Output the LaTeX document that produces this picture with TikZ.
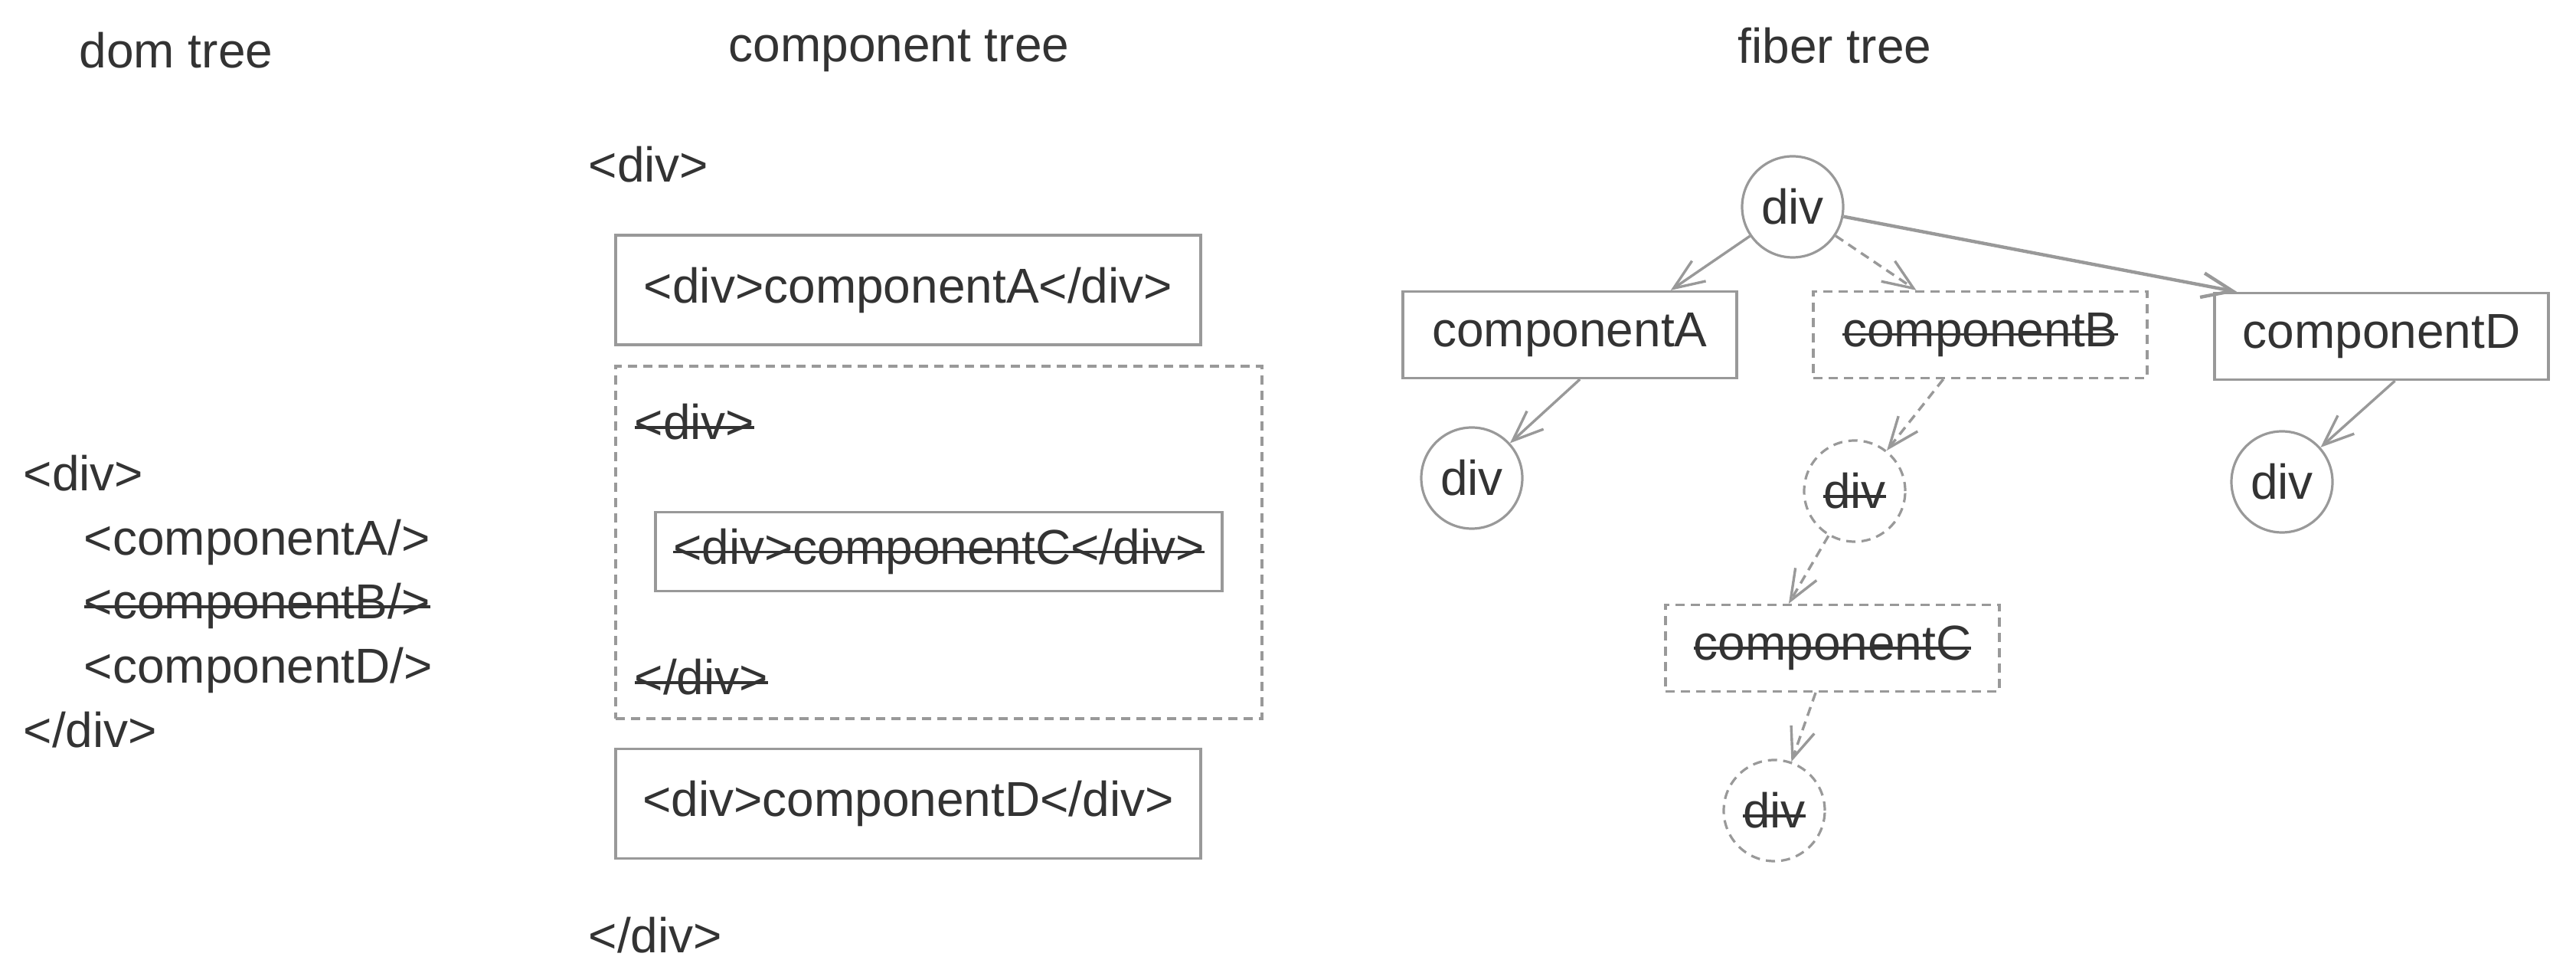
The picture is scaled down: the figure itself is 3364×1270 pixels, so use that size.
\documentclass[tikz,border=0pt]{standalone}
\usepackage{fontspec}
\setmainfont{Liberation Sans}
\newsavebox\strkbox
\newcommand\strk[1]{\sbox\strkbox{#1}\makebox[0pt][l]{\usebox\strkbox}\rule[0.22em]{\wd\strkbox}{0.9pt}}
\usetikzlibrary{arrows.meta,calc}
\definecolor{txt}{HTML}{333333}
\definecolor{ln}{HTML}{999999}
\tikzset{
  every node/.style={text=txt, font=\fontsize{16}{19}\selectfont},
  lbl/.style={anchor=base west, inner sep=0},
  ttl/.style={anchor=center, inner sep=0},
  dshd/.style={dash pattern=on 3pt off 2pt},
  cbox/.style={draw=ln, line width=0.8pt, rectangle, minimum width=191pt, minimum height=35.75pt, inner sep=0},
  grpbox/.style={draw=ln, line width=0.8pt, dshd, rectangle, minimum width=211pt, minimum height=115pt, inner sep=0},
  ibox/.style={draw=ln, line width=0.8pt, rectangle, minimum width=185pt, minimum height=25.75pt, inner sep=0},
  arr/.style={draw=ln, line width=0.85pt, -{Straight Barb[length=10pt,width=8pt]}},
  darr/.style={arr, dshd},
  fbox/.style={draw=ln, line width=0.8pt, rectangle, minimum width=109pt, minimum height=28.25pt, inner sep=0},
  dfbox/.style={fbox, dshd},
  fcirc/.style={draw=ln, line width=0.8pt, circle, minimum size=33pt, inner sep=0},
  dfcirc/.style={fcirc, dshd},
}
\begin{document}
\begin{tikzpicture}[x=0.25pt,y=-0.25pt]
\useasboundingbox (0,0) rectangle (3364,1270);
% titles
\node[ttl] (t1) at (230,66) {dom tree};
\node[ttl] (t2) at (1174,66) {component tree};
\node[ttl] (t3) at (2396,60) {fiber tree};
% dom tree
\node[lbl] (d1) at (30,641) {<div>};
\node[lbl] (d2) at (109,725) {<componentA/>};
\node[lbl] (d3) at (109,808) {\strk{<componentB/>}};
\node[lbl] (d4) at (109,892) {<componentD/>};
\node[lbl] (d5) at (30,976) {</div>};
% component tree
\node[lbl] (c1) at (768,238) {<div>};
\node[cbox] (cA) at (1186,378.5) {<div>componentA</div>};
\node[grpbox] (grp) at (1226,708) {};
\node[lbl] (c2) at (828,574) {\strk{<div>}};
\node[ibox] (cC) at (1226,720) {\strk{<div>componentC</div>}};
\node[lbl] (c3) at (828,907) {\strk{</div>}};
\node[cbox] (cD) at (1186,1049) {<div>componentD</div>};
\node[lbl] (c4) at (768,1244) {</div>};
% fiber tree
\node[fcirc] (root) at (2341,270) {div};
\node[fbox] (fA) at (2050,437) {componentA};
\node[dfbox] (fB) at (2586,437) {\strk{componentB}};
\node[fbox] (fD) at (3110,439) {componentD};
\node[fcirc] (dA) at (1922,624) {div};
\node[dfcirc] (dB) at (2422,641) {\strk{div}};
\node[fcirc] (dD) at (2980,629) {div};
\node[dfbox] (fC) at (2393,846) {\strk{componentC}};
\node[dfcirc] (dC) at (2317,1058) {\strk{div}};
% anchor points
\coordinate (fAt) at ($(fA.north west)!0.80!(fA.north east)$);
\coordinate (fBt) at ($(fB.north west)!0.31!(fB.north east)$);
\coordinate (fDt) at ($(fD.north west)!0.07!(fD.north east)$);
\coordinate (fAb) at ($(fA.south west)!0.53!(fA.south east)$);
\coordinate (fBb) at ($(fB.south west)!0.39!(fB.south east)$);
\coordinate (fDb) at ($(fD.south west)!0.54!(fD.south east)$);
\coordinate (fCt) at ($(fC.north west)!0.37!(fC.north east)$);
\coordinate (fCb) at ($(fC.south west)!0.45!(fC.south east)$);
% connectors
\draw[arr] (root) -- (fAt);
\draw[darr] (root) -- (fBt);
\draw[arr, line width=1.1pt] (root) -- (fDt);
\draw[arr] (fAb) -- (dA);
\draw[darr] (fBb) -- (dB);
\draw[arr] (fDb) -- (dD);
\draw[darr] (dB) -- (fCt);
\draw[darr] (fCb) -- (dC);
\end{tikzpicture}
\end{document}
